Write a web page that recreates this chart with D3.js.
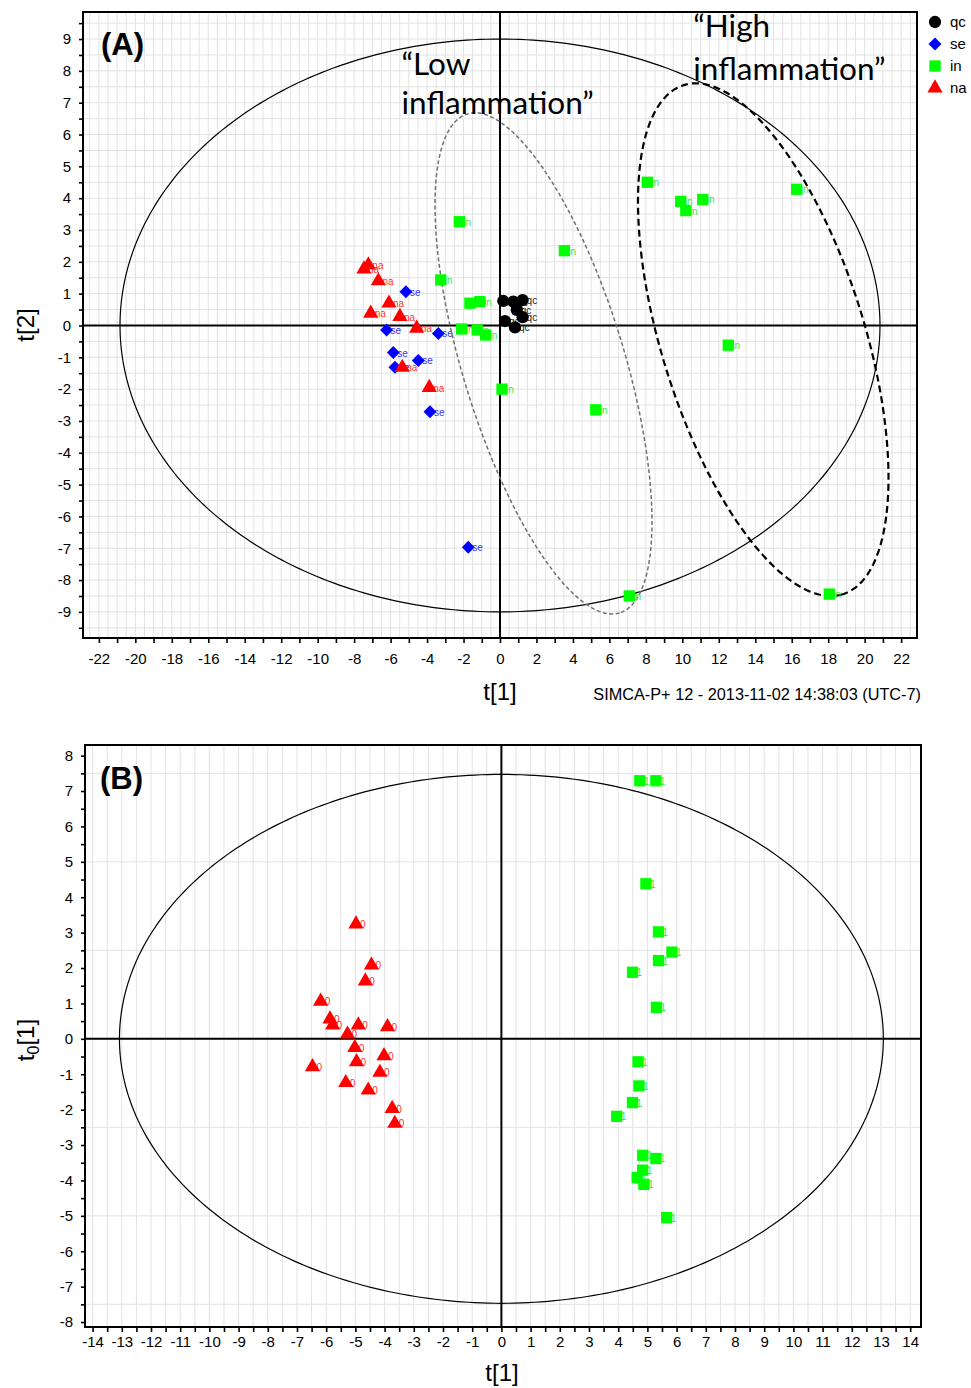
<!DOCTYPE html>
<html>
<head>
<meta charset="utf-8">
<script src="https://cdn.jsdelivr.net/npm/d3@7"></script>
<style>
  body { margin: 0; background: #fff; }
  svg { display: block; font-family: "Liberation Sans", Arial, sans-serif; }
</style>
</head>
<body>
<div id="chart"></div>
<script>
// ---- panel A scores (t[1], t[2]) per class ----
const qcScores = [[0.18, 0.77], [0.73, 0.75], [1.24, 0.80], [0.92, 0.49], [1.24, 0.26], [0.27, 0.14], [0.82, -0.06]];
const seScores = [[-5.16, 1.06], [-6.22, -0.14], [-3.38, -0.25], [-5.85, -0.85], [-4.48, -1.10], [-5.76, -1.31], [-3.84, -2.71], [-1.74, -6.97]];
const inScores = [[-2.23, 3.26], [3.53, 2.35], [-3.25, 1.43], [-1.65, 0.70], [-1.10, 0.75], [-2.10, -0.11], [-1.25, -0.14],
  [-0.79, -0.30], [0.11, -2.00], [5.25, -2.65], [8.08, 4.50], [9.91, 3.90], [10.19, 3.61], [11.12, 3.96], [16.27, 4.28],
  [12.52, -0.62], [7.09, -8.50], [18.06, -8.44]];
const naScores = [[-7.22, 1.90], [-7.46, 1.77], [-6.67, 1.40], [-6.09, 0.70], [-7.09, 0.38], [-5.49, 0.28], [-4.57, -0.09],
  [-5.36, -1.32], [-3.88, -1.95]];

// ---- panel B scores (t[1], to[1]) ----
const class0Scores = [[-4.98, 3.24], [-4.45, 2.08], [-4.66, 1.63], [-6.19, 1.06], [-5.87, 0.56], [-5.78, 0.39], [-4.90, 0.39],
  [-3.90, 0.34], [-5.27, 0.13], [-5.02, -0.25], [-4.02, -0.48], [-4.96, -0.65], [-6.47, -0.79], [-4.16, -0.95],
  [-5.33, -1.24], [-4.56, -1.45], [-3.74, -1.97], [-3.65, -2.39]];
const class1Scores = [[4.74, 7.29], [5.29, 7.29], [4.95, 4.38], [5.38, 3.02], [5.84, 2.45], [5.38, 2.21], [4.49, 1.88],
  [5.31, 0.89], [4.68, -0.65], [4.71, -1.33], [4.49, -1.80], [3.95, -2.19], [4.84, -3.29], [5.29, -3.38], [4.84, -3.71],
  [4.65, -3.92], [4.88, -4.11], [5.66, -5.05]];

const legendNames = ["qc", "se", "in", "na"];
const xTicksA = d3.range(-22, 23, 2);
const yTicksA = d3.range(-9, 10, 1);
const xTicksB = d3.range(-14, 15, 1);
const yTicksB = d3.range(-8, 9, 1);

// Hotelling T2 ellipse radii and the two hand drawn groupings (centre + semi axes, data units)
const t2RadiiA = [20.84, 9.0];
const t2RadiiB = [13.08, 7.47];
const lowGroup = { c: [2.386, -1.191], u: [4.175, -7.839], v: [-4.240, -0.741] };
const highGroup = { c: [14.438, -0.446], u: [4.358, -7.999], v: [-5.310, -0.949] };

const colors = { qc: "#000000", se: "#0000ff", in: "#00ff00", na: "#ff0000" };
const labelColors = { qc: "#222222", se: "#3535ff", in: "#35e835", na: "#ff3030" };
const shapes = { qc: d3.symbolCircle, se: d3.symbolSquare, in: d3.symbolSquare, na: d3.symbolTriangle };
const sizes = { qc: 118, se: 84, in: 128, na: 100 };

const svg = d3.select("#chart").append("svg")
    .attr("width", 971)
    .attr("height", 1388);

function ellipsePoints(c, u, v) {
    return d3.range(0, 2 * Math.PI, Math.PI / 180).map(function (t) {
        return [c[0] + u[0] * Math.cos(t) + v[0] * Math.sin(t), c[1] + u[1] * Math.cos(t) + v[1] * Math.sin(t)];
    });
}

function drawPanel(p) {
    var x = d3.scaleLinear().domain(p.xDomain).range([p.left, p.right]);
    var y = d3.scaleLinear().domain(p.yDomain).range([p.bottom, p.top]);
    var g = svg.append("g");

    // grid
    g.append("g").selectAll("line")
        .data(d3.range(Math.ceil(p.xDomain[0] * 2) / 2, p.xDomain[1], 0.5))
        .enter().append("line")
        .attr("x1", d => x(d)).attr("x2", d => x(d))
        .attr("y1", p.top).attr("y2", p.bottom)
        .attr("stroke", "#e2e2e2").attr("stroke-width", 1);
    g.append("g").selectAll("line")
        .data(d3.range(Math.ceil(p.yDomain[0] / p.yGrid) * p.yGrid, p.yDomain[1], p.yGrid))
        .enter().append("line")
        .attr("y1", d => y(d)).attr("y2", d => y(d))
        .attr("x1", p.left).attr("x2", p.right)
        .attr("stroke", "#e2e2e2").attr("stroke-width", 1);

    // zero lines
    g.append("line").attr("x1", x(0)).attr("x2", x(0)).attr("y1", p.top).attr("y2", p.bottom)
        .attr("stroke", "#000").attr("stroke-width", 2);
    g.append("line").attr("y1", y(0)).attr("y2", y(0)).attr("x1", p.left).attr("x2", p.right)
        .attr("stroke", "#000").attr("stroke-width", 2);

    // axes
    var xAxis = g.append("g")
        .attr("transform", "translate(0," + p.bottom + ")")
        .call(d3.axisBottom(x).tickValues(d3.range(Math.ceil(p.xDomain[0]), p.xDomain[1], p.xTickStep))
            .tickFormat(d => p.xLabels.indexOf(d) >= 0 ? d : "")
            .tickSize(5).tickPadding(p.xPad));
    var yAxis = g.append("g")
        .attr("transform", "translate(" + p.left + ",0)")
        .call(d3.axisLeft(y).tickValues(d3.range(Math.ceil(p.yDomain[0] * 2) / 2, p.yDomain[1], 0.5))
            .tickFormat(d => p.yLabels.indexOf(d) >= 0 ? d : "")
            .tickSize(4).tickPadding(8));
    [xAxis, yAxis].forEach(function (a) {
        a.select(".domain").remove();
        a.selectAll("line").attr("stroke", "#000").attr("stroke-width", 1.6);
        a.selectAll("text").attr("font-size", 15).attr("fill", "#000").attr("font-family", "Liberation Sans, Arial, sans-serif");
    });

    // frame
    g.append("rect").attr("x", p.left).attr("y", p.top)
        .attr("width", p.right - p.left).attr("height", p.bottom - p.top)
        .attr("fill", "none").attr("stroke", "#000").attr("stroke-width", 2);

    // Hotelling ellipse
    var line = d3.line().x(d => x(d[0])).y(d => y(d[1])).curve(d3.curveLinearClosed);
    g.append("path")
        .attr("d", line(ellipsePoints([0, 0], [p.t2[0], 0], [0, p.t2[1]])))
        .attr("fill", "none").attr("stroke", "#000").attr("stroke-width", 1.2);

    return { g: g, x: x, y: y, line: line };
}

function drawPoints(panel, data, cls, label) {
    var x = panel.x, y = panel.y;
    panel.g.append("g").selectAll("text")
        .data(data).enter().append("text")
        .attr("x", d => x(d[0]) + 4)
        .attr("y", d => y(d[1]) + 4)
        .attr("font-size", 10)
        .attr("fill", labelColors[cls])
        .text(label);
    panel.g.append("g").selectAll("path")
        .data(data).enter().append("path")
        .attr("transform", d => "translate(" + x(d[0]) + "," + y(d[1]) + ")" + (cls === "se" ? " rotate(45)" : ""))
        .attr("d", d3.symbol().type(shapes[cls]).size(sizes[cls]))
        .attr("fill", colors[cls]);
}

// ---------- Panel A ----------
var A = drawPanel({
    left: 83, right: 917, top: 12, bottom: 638,
    xDomain: [-22.87, 22.87], yDomain: [-9.82, 9.85],
    xTickStep: 1, xLabels: xTicksA, yLabels: yTicksA, yGrid: 0.5, xPad: 10,
    t2: t2RadiiA
});

A.g.append("path").attr("d", A.line(ellipsePoints(lowGroup.c, lowGroup.u, lowGroup.v)))
    .attr("fill", "none").attr("stroke", "#707070").attr("stroke-width", 1.5).attr("stroke-dasharray", "4,2.5");
A.g.append("path").attr("d", A.line(ellipsePoints(highGroup.c, highGroup.u, highGroup.v)))
    .attr("fill", "none").attr("stroke", "#000").attr("stroke-width", 2.2).attr("stroke-dasharray", "7,4");

drawPoints(A, inScores, "in", "in");
drawPoints(A, seScores, "se", "se");
drawPoints(A, naScores, "na", "na");
drawPoints(A, qcScores, "qc", "qc");

// group annotations
var noteFont = "Lato, 'Open Sans', sans-serif";
[["\u201CLow", -5.4, 7.86], ["inflammation\u201D", -5.4, 6.66],
 ["\u201CHigh", 10.6, 9.07], ["inflammation\u201D", 10.6, 7.72]].forEach(function (n) {
    A.g.append("text").attr("x", A.x(n[1])).attr("y", A.y(n[2]))
        .attr("font-family", noteFont).attr("font-size", 31.5).attr("fill", "#000").text(n[0]);
});

A.g.append("text").attr("x", 101).attr("y", 55).attr("font-size", 31).attr("font-weight", "bold").text("(A)");

svg.append("text").attr("transform", "translate(34,325) rotate(-90)")
    .attr("text-anchor", "middle").attr("font-size", 24).text("t[2]");
svg.append("text").attr("x", 500).attr("y", 700)
    .attr("text-anchor", "middle").attr("font-size", 24).text("t[1]");
svg.append("text").attr("x", 921).attr("y", 700)
    .attr("text-anchor", "end").attr("font-size", 16.3).text("SIMCA-P+ 12 - 2013-11-02 14:38:03 (UTC-7)");

// legend
var legend = svg.append("g");
legendNames.forEach(function (name, i) {
    var cy = 22 + i * 22;
    legend.append("path")
        .attr("transform", "translate(935," + cy + ")" + (name === "se" ? " rotate(45)" : ""))
        .attr("d", d3.symbol().type(shapes[name]).size(sizes[name]))
        .attr("fill", colors[name]);
    legend.append("text").attr("x", 950).attr("y", cy + 5)
        .attr("font-size", 15).text(name);
});

// ---------- Panel B ----------
var B = drawPanel({
    left: 85, right: 921, top: 745, bottom: 1327,
    xDomain: [-14.26, 14.37], yDomain: [-8.14, 8.30],
    xTickStep: 0.5, xLabels: xTicksB, yLabels: yTicksB, yGrid: 2.5, xPad: 4,
    t2: t2RadiiB
});
drawPoints(B, class0Scores, "na", "0");
drawPoints(B, class1Scores, "in", "1");

B.g.append("text").attr("x", 100).attr("y", 789).attr("font-size", 31).attr("font-weight", "bold").text("(B)");

var yLabB = svg.append("text").attr("transform", "translate(34,1040) rotate(-90)")
    .attr("text-anchor", "middle").attr("font-size", 24);
yLabB.append("tspan").text("t");
yLabB.append("tspan").attr("font-size", 16).attr("dy", 5).text("0");
yLabB.append("tspan").attr("dy", -5).text("[1]");
svg.append("text").attr("x", 502).attr("y", 1381)
    .attr("text-anchor", "middle").attr("font-size", 24).text("t[1]");
</script>
</body>
</html>
